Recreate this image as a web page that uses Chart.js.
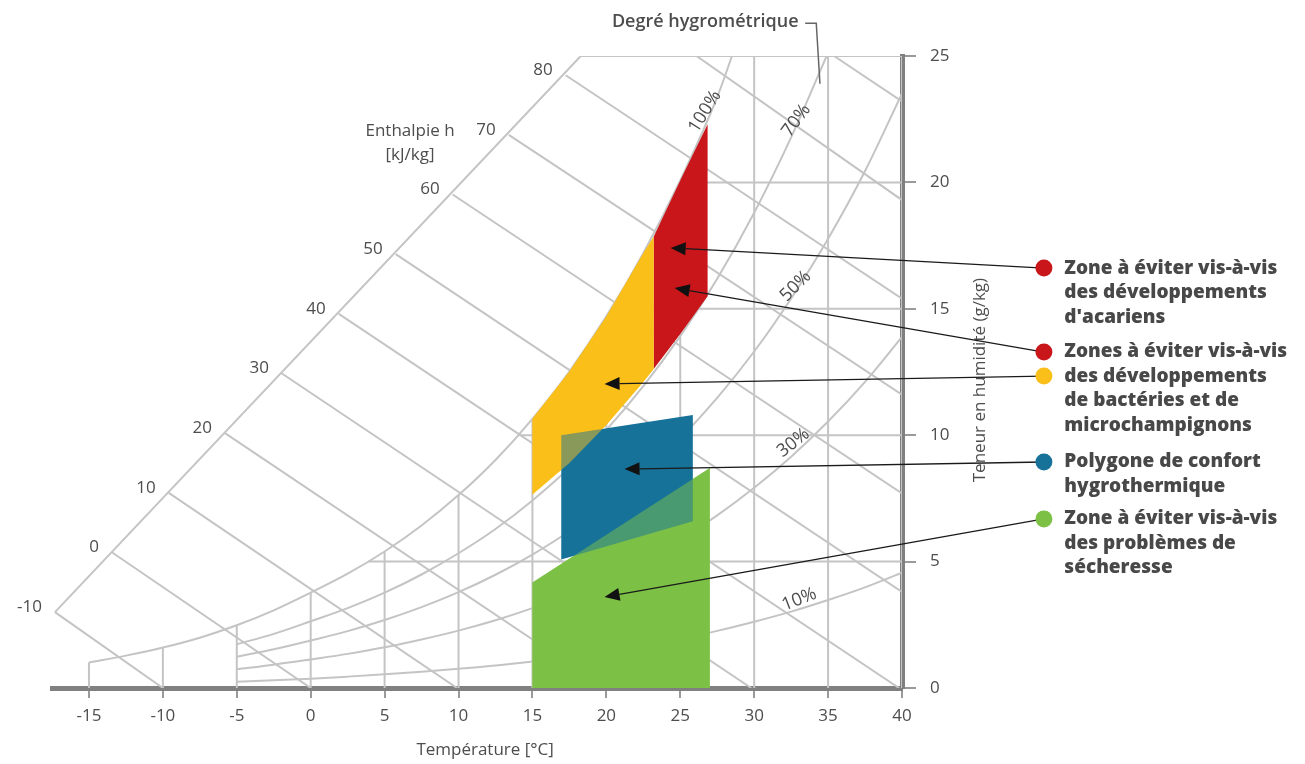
<!DOCTYPE html>
<html lang="fr">
<head>
<meta charset="utf-8">
<title>Diagramme de l'air humide</title>
<script src="https://cdn.jsdelivr.net/npm/chart.js@4.4.1/dist/chart.umd.min.js"></script>
<style>
    html, body { margin: 0; padding: 0; background: #fff; }
    #wrap { width: 1305px; height: 764px; }
</style>
</head>
<body>
<div id="wrap"><canvas id="psy" width="1305" height="764"></canvas></div>
<script>
// ---- axes ----
const tempTicks = [-15, -10, -5, 0, 5, 10, 15, 20, 25, 30, 35, 40];
const humTicks = [0, 5, 10, 15, 20, 25];

// haut des verticales (limitées par la courbe 100%)
const vertTop = [1.01, 1.60, 2.48, 3.77, 5.40, 7.63, 10.65, 14.70, 20.08, 25, 25, 25];
// début des horizontales (5, 10, 15, 20, 25 g/kg)
const rowW = [5, 10, 15, 20, 25];
const rowStartT = [3.9, 14.1, 20.3, 24.95, 18.27];

// ---- courbes d'humidité relative ----
const satT = [-15, -12.5, -10, -7.5, -5, -2.5, 0, 2.5, 5, 7.5, 10, 12.5, 15, 17.5, 20, 22.5, 25, 27.5, 28.5];
const satW = [1.01, 1.28, 1.60, 1.99, 2.48, 3.07, 3.77, 4.52, 5.40, 6.43, 7.63, 9.02, 10.65, 12.52, 14.70, 17.20, 20.08, 23.37, 25.0];

const rhT = [-5, -2.5, 0, 2.5, 5, 7.5, 10, 12.5, 15, 17.5, 20, 22.5, 25, 27.5, 30, 32.5, 35, 37.5, 40];
const rh70T = [-5, -2.5, 0, 2.5, 5, 7.5, 10, 12.5, 15, 17.5, 20, 22.5, 25, 27.5, 30, 32.5, 34.9];
const rh70 = [1.73, 2.14, 2.64, 3.16, 3.77, 4.49, 5.33, 6.29, 7.42, 8.71, 10.21, 11.94, 13.92, 16.19, 18.80, 21.78, 25.0];
const rh50 = [1.24, 1.53, 1.88, 2.25, 2.69, 3.20, 3.79, 4.48, 5.28, 6.20, 7.27, 8.49, 9.88, 11.48, 13.31, 15.41, 17.77, 20.45, 23.52];
const rh30 = [0.74, 0.92, 1.13, 1.35, 1.61, 1.92, 2.27, 2.68, 3.16, 3.71, 4.34, 5.06, 5.89, 6.83, 7.92, 9.15, 10.54, 12.11, 13.89];
const rh10 = [0.25, 0.31, 0.37, 0.45, 0.54, 0.64, 0.76, 0.89, 1.05, 1.23, 1.44, 1.68, 1.95, 2.26, 2.62, 3.02, 3.48, 3.98, 4.56];

// ---- enthalpie ----
const hScaleT = [-17.3, 18.27];
const hScaleW = [3.0, 25];
const hLabels = [-10, 0, 10, 20, 30, 40, 50, 60, 70, 80];
const hStartT = [-17.3, -13.45, -9.6, -5.8, -1.95, 1.9, 5.75, 9.6, 13.4, 17.25, 26.1, 35.4];
const hStartW = [3.0, 5.37, 7.72, 10.08, 12.44, 14.8, 17.16, 19.52, 21.88, 24.24, 25, 25];
const hEndT = [-10, 0, 9.9, 19.9, 29.8, 39.8, 40, 40, 40, 40, 40, 40];
const hEndW = [0, 0, 0, 0, 0, 0, 3.8, 7.7, 11.6, 15.4, 19.3, 23.2];

// ---- zones ----
const yellowT = [15, 17.5, 20, 22.5, 23.2, 23.2, 22.5, 20, 17.5, 15];
const yellowW = [10.65, 12.52, 14.70, 17.20, 17.85, 12.62, 12.1, 10.4, 8.9, 7.65];
const redT = [23.2, 25, 26.85, 26.85, 25, 23.2];
const redW = [17.85, 20.08, 22.3, 15.5, 14.0, 12.62];
const blueT = [16.95, 25.85, 25.85, 16.95];
const blueW = [10.0, 10.8, 6.6, 5.08];
const greenT = [15, 15, 27, 27];
const greenW = [0, 4.17, 8.7, 0];

// ---- flèches (départ près des pastilles, arrivée dans les zones) ----
const arrowStartW = [16.61, 13.29, 12.34, 8.94, 6.69];
const arrowEndT = [24.35, 24.62, 19.88, 21.23, 19.88];
const arrowEndW = [17.41, 15.82, 12.03, 8.66, 3.6];

const RED = "#c8161b";
const YELLOW = "#fbbf1a";
const BLUE = "#17729a";
const GREEN = "#7cc146";
const GRID = "#c4c4c4";
const TEXT = "#4d4d4d";
const FONT = "'Open Sans', Lato, sans-serif";

function pts(xs, ys) {
    return xs.map((v, i) => ({ x: v, y: ys[i] }));
}

function lineSet(xs, ys, smooth) {
    return {
        data: pts(xs, ys),
        showLine: true,
        borderColor: GRID,
        borderWidth: 2,
        pointRadius: 0,
        fill: false,
        cubicInterpolationMode: smooth ? "monotone" : "default",
        order: 100
    };
}

function zoneSet(xs, ys, color, order) {
    return {
        data: pts(xs, ys),
        showLine: true,
        borderColor: "rgba(0,0,0,0)",
        borderWidth: 0,
        backgroundColor: color,
        pointRadius: 0,
        fill: "shape",
        order: order
    };
}

const datasets = [];

tempTicks.forEach((t, i) => datasets.push(lineSet([t, t], [0, vertTop[i]])));
rowW.forEach((w, i) => datasets.push(lineSet([rowStartT[i], 40], [w, w])));
datasets.push(lineSet(hScaleT, hScaleW));
hStartT.forEach((t, i) => datasets.push(lineSet([t, hEndT[i]], [hStartW[i], hEndW[i]])));

datasets.push(lineSet(satT, satW, true));
datasets.push(lineSet(rh70T, rh70, true));
datasets.push(lineSet(rhT, rh50, true));
datasets.push(lineSet(rhT, rh30, true));
datasets.push(lineSet(rhT, rh10, true));

datasets.push(zoneSet(greenT, greenW, GREEN, 60));
datasets.push(zoneSet(yellowT, yellowW, YELLOW, 60));
datasets.push(zoneSet(redT, redW, RED, 60));
datasets.push(zoneSet(blueT, blueW, BLUE, 50));
// recouvrements : jaune et vert à moitié transparents par-dessus le bleu
datasets.push(zoneSet(yellowT, yellowW, "rgba(251,191,26,0.5)", 40));
datasets.push(zoneSet(greenT, greenW, "rgba(124,193,70,0.5)", 40));

const legendItems = [
    { dots: [[RED, 16.61]], lines: ["Zone à éviter vis-à-vis", "des développements", "d'acariens"] },
    { dots: [[RED, 13.29], [YELLOW, 12.34]], lines: ["Zones à éviter vis-à-vis", "des développements", "de bactéries et de", "microchampignons"] },
    { dots: [[BLUE, 8.94]], lines: ["Polygone de confort", "hygrothermique"] },
    { dots: [[GREEN, 6.69]], lines: ["Zone à éviter vis-à-vis", "des problèmes de", "sécheresse"] }
];

const rhNotes = [
    { text: "100%", t: 26.67, w: 22.8, angle: -58 },
    { text: "70%", t: 32.85, w: 22.45, angle: -54 },
    { text: "50%", t: 32.8, w: 15.9, angle: -45 },
    { text: "30%", t: 32.65, w: 9.7, angle: -38 },
    { text: "10%", t: 33.05, w: 3.5, angle: -21 }
];

function drawArrow(ctx, x1, y1, x2, y2) {
    const a = Math.atan2(y2 - y1, x2 - x1);
    const len = 15, half = 6.5;
    const bx = x2 - len * Math.cos(a);
    const by = y2 - len * Math.sin(a);
    ctx.beginPath();
    ctx.moveTo(x1, y1);
    ctx.lineTo(bx, by);
    ctx.stroke();
    ctx.beginPath();
    ctx.moveTo(x2, y2);
    ctx.lineTo(bx + half * Math.sin(a), by - half * Math.cos(a));
    ctx.lineTo(bx - half * Math.sin(a), by + half * Math.cos(a));
    ctx.closePath();
    ctx.fill();
}

const notes = {
    id: "notes",
    afterDraw(chart) {
        const { ctx } = chart;
        const x = chart.scales.x;
        const y = chart.scales.y;
        const px = t => x.getPixelForValue(t);
        const py = w => y.getPixelForValue(w);

        ctx.save();
        ctx.fillStyle = TEXT;
        ctx.textBaseline = "middle";

        // valeurs d'enthalpie
        ctx.font = "500 17px " + FONT;
        ctx.textAlign = "right";
        hLabels.forEach((h, i) => {
            ctx.fillText(String(h), px(hStartT[i]) - 13, py(hStartW[i]) - 5);
        });

        ctx.textAlign = "center";
        ctx.fillText("Enthalpie h", px(6.72), py(22.03));
        ctx.fillText("[kJ/kg]", px(6.72), py(21.07));

        // degré hygrométrique
        ctx.font = "500 18px " + FONT;
        rhNotes.forEach(n => {
            ctx.save();
            ctx.translate(px(n.t), py(n.w));
            ctx.rotate(n.angle * Math.PI / 180);
            ctx.fillText(n.text, 0, 0);
            ctx.restore();
        });

        ctx.font = "600 18px " + FONT;
        ctx.textAlign = "right";
        ctx.fillText("Degré hygrométrique", px(33.0), py(26.34));
        ctx.strokeStyle = "#666";
        ctx.lineWidth = 1.5;
        ctx.beginPath();
        ctx.moveTo(px(33.45), py(26.3));
        ctx.lineTo(px(34.2), py(26.3));
        ctx.lineTo(px(34.45), py(23.9));
        ctx.stroke();

        // titres des axes
        ctx.font = "500 17px " + FONT;
        ctx.textAlign = "center";
        ctx.fillText("Température [°C]", px(11.8), py(-2.45));

        ctx.save();
        ctx.translate(px(45.27), py(12.18));
        ctx.rotate(-Math.PI / 2);
        ctx.fillText("Teneur en humidité (g/kg)", 0, 0);
        ctx.restore();

        // flèches
        ctx.strokeStyle = "#1a1a1a";
        ctx.fillStyle = "#111";
        ctx.lineWidth = 1.3;
        arrowStartW.forEach((w, i) => {
            drawArrow(ctx, px(49.6), py(w), px(arrowEndT[i]), py(arrowEndW[i]));
        });

        // légende
        ctx.font = "800 19px " + FONT;
        ctx.textAlign = "left";
        legendItems.forEach(item => {
            item.dots.forEach(([color, w]) => {
                ctx.fillStyle = color;
                ctx.beginPath();
                ctx.arc(px(49.6), py(w), 8.5, 0, Math.PI * 2);
                ctx.fill();
            });
            const y0 = py(item.dots[0][1]);
            ctx.fillStyle = "#484848";
            item.lines.forEach((txt, k) => {
                ctx.fillText(txt, px(50.98), y0 + k * 24.5);
            });
        });

        ctx.restore();
    }
};

Chart.defaults.font.family = FONT;

new Chart(document.getElementById("psy"), {
    type: "scatter",
    data: { datasets },
    options: {
        responsive: false,
        animation: false,
        devicePixelRatio: 1,
        events: [],
        layout: { padding: { left: 52, top: 56, right: 0, bottom: 0 } },
        plugins: {
            legend: { display: false },
            tooltip: { enabled: false }
        },
        scales: {
            x: {
                type: "linear",
                position: "bottom",
                min: -17.5,
                max: 40,
                afterFit: s => { s.height = 76; },
                afterBuildTicks: s => { s.ticks = tempTicks.map(v => ({ value: v })); },
                grid: { drawOnChartArea: false, drawTicks: true, tickLength: 10, color: "#9a9a9a", lineWidth: 2 },
                border: { display: true, color: "#808080", width: 5 },
                ticks: { color: TEXT, font: { size: 17, weight: 500 }, padding: 8, maxRotation: 0 }
            },
            y: {
                type: "linear",
                position: "right",
                min: 0,
                max: 25,
                afterFit: s => { s.width = 403; },
                afterBuildTicks: s => { s.ticks = humTicks.map(v => ({ value: v })); },
                grid: { drawOnChartArea: false, drawTicks: true, tickLength: 14, color: "#9a9a9a", lineWidth: 2 },
                border: { display: true, color: "#808080", width: 5 },
                ticks: { color: TEXT, font: { size: 17, weight: 500 }, padding: 14, crossAlign: "near" }
            }
        }
    },
    plugins: [notes]
});
</script>
</body>
</html>
